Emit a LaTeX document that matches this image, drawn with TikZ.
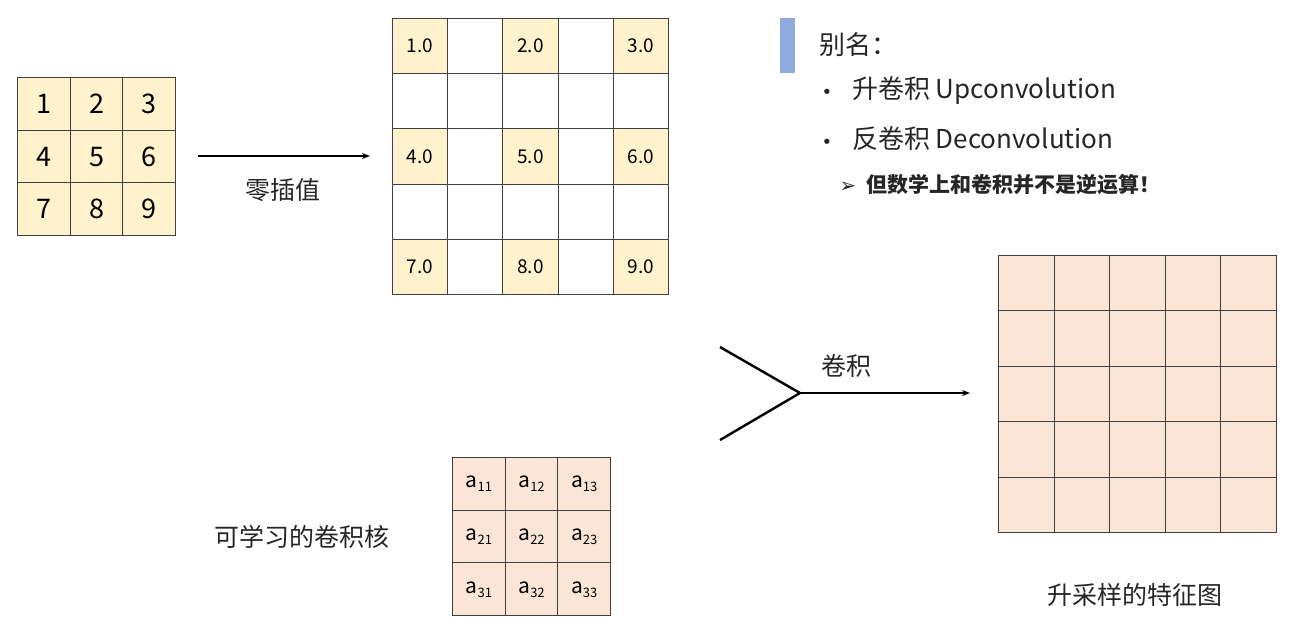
\documentclass[tikz,border=0pt]{standalone}
\usepackage{fontspec}
\setmainfont{Noto Sans CJK SC}
\usetikzlibrary{arrows.meta}
\definecolor{yel}{HTML}{FFF2CC}
\definecolor{pch}{HTML}{FBE5D6}
\definecolor{bar}{HTML}{8FAADC}
\definecolor{ln}{HTML}{404040}
\newcommand{\subsc}[1]{\raisebox{-4pt}{\fontsize{13}{15}\selectfont #1}}
\begin{document}
\begin{tikzpicture}[x=1pt,y=-1pt,
  cell/.style={draw=ln,line width=1pt,minimum size=#1,inner sep=0pt,anchor=north west},
  lbl/.style={font=\fontsize{25}{30}\selectfont,text=black!85},
  arr/.style={line width=1.6pt,-{Stealth[length=8pt]}}]
\useasboundingbox (0,0) rectangle (1296,633);
% left grid
\foreach \r in {0,1,2}{\foreach \c in {0,1,2}{
  \pgfmathtruncatemacro\v{\r*3+\c+1}
  \node[cell=52.7pt,fill=yel,font=\fontsize{27}{30}\selectfont] (L\r\c) at (17+52.7*\c,77+52.7*\r) {\v};}}
% middle grid
\foreach \r in {0,...,4}{\foreach \c in {0,...,4}{
  \node[cell=55.2pt,fill=white] (M\r\c) at (392+55.2*\c,18+55.2*\r) {};}}
\foreach \r/\rr in {0/0,2/1,4/2}{\foreach \c/\cc in {0/0,2/1,4/2}{
  \pgfmathtruncatemacro\v{\rr*3+\cc+1}
  \node[cell=55.2pt,fill=yel,font=\fontsize{19}{22}\selectfont] at (392+55.2*\c,18+55.2*\r) {\v.0};}}
\coordinate (a1) at (198,156);
\draw[arr] (a1) -- (370,156);
\node[lbl] (z) at (283,190) {零插值};
% right text
\fill[bar] (780,18) rectangle (795,73);
\node[lbl,anchor=west,font=\fontsize{26}{30}\selectfont] (bm) at (816,45) {别名：};
\node[anchor=west,font=\fontsize{26}{30}\selectfont,text=black!85] (b1) at (818,91) {{\fontspec{DejaVu Sans}\fontsize{18}{20}\selectfont •}\hspace{20pt}升卷积 Upconvolution};
\node[anchor=west,font=\fontsize{26}{30}\selectfont,text=black!85] (b2) at (818,139) {{\fontspec{DejaVu Sans}\fontsize{18}{20}\selectfont •}\hspace{20pt}反卷积 Deconvolution};
\node[anchor=west,text=black!85] (b3) at (836,185) {{\fontspec{DejaVu Sans}\fontsize{20}{22}\selectfont ➢}\hspace{10pt}{\fontsize{21}{24}\selectfont\bfseries 但数学上和卷积并不是逆运算！}};
% output grid
\foreach \r in {0,...,4}{\foreach \c in {0,...,4}{
  \node[cell=55.6pt,fill=pch] (O\r\c) at (998+55.6*\c,255+55.4*\r) {};}}
\node[lbl] (ol) at (1135,595) {升采样的特征图};
% kernel
\foreach \r in {1,2,3}{\foreach \c in {1,2,3}{
  \node[cell=52.7pt,fill=pch,font=\fontsize{21}{24}\selectfont] (K\r\c) at (452+52.7*\c-52.7,457+52.7*\r-52.7) {a\subsc{\r\c}};}}
\node[lbl] (kl) at (302,537) {可学习的卷积核};
% Y junction
\coordinate (j) at (800,393);
\coordinate (y1) at (720,347);
\coordinate (y2) at (720,440);
\draw[line width=2.4pt] (y1) -- (j) -- (y2);
\draw[arr] (j) -- (970,393);
\node[lbl] (cv) at (846,366) {卷积};
\end{tikzpicture}
\end{document}
